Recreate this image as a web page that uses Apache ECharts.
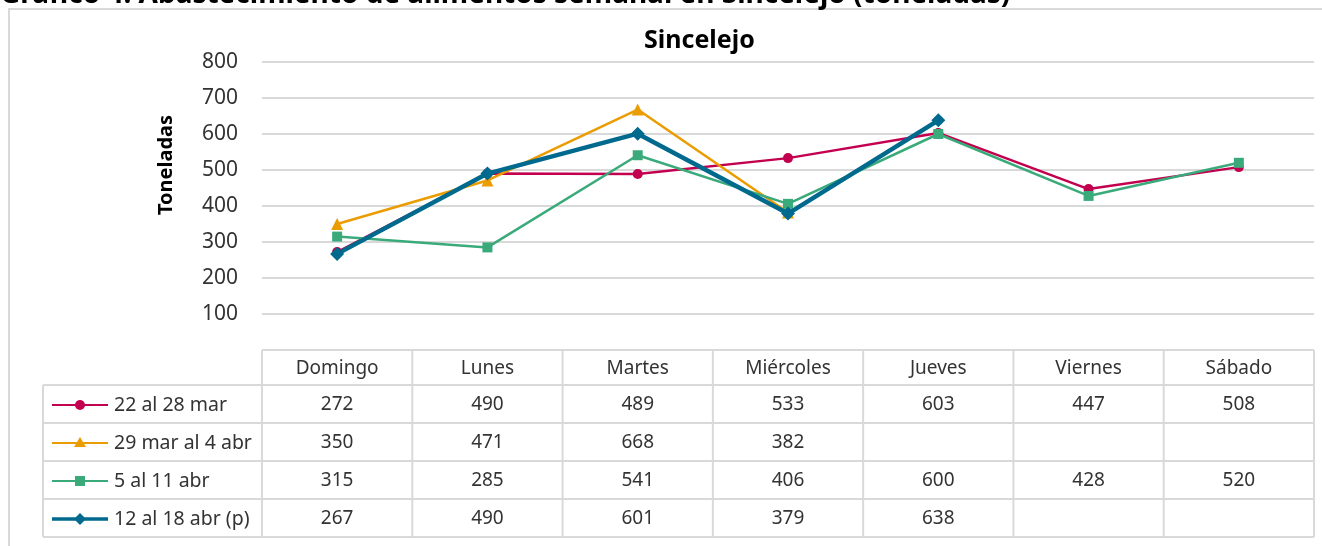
<!DOCTYPE html>
<html>
<head>
<meta charset="utf-8">
<script src="https://cdn.jsdelivr.net/npm/echarts@6/dist/echarts.min.js"></script>
<style>
html,body{margin:0;padding:0;background:#fff;}
#chart{width:1322px;height:546px;}
</style>
</head>
<body>
<div id="chart"></div>
<script>
const categories = ['Domingo','Lunes','Martes','Miércoles','Jueves','Viernes','Sábado'];
const seriesNames = ['22 al 28 mar','29 mar al 4 abr','5 al 11 abr','12 al 18 abr (p)'];
const week1 = [272, 490, 489, 533, 603, 447, 508];
const week2 = [350, 471, 668, 382, null, null, null];
const week3 = [315, 285, 541, 406, 600, 428, 520];
const week4 = [267, 490, 601, 379, 638, null, null];
const yTicks = [0, 100, 200, 300, 400, 500, 600, 700, 800];
const chartTitle = 'Sincelejo';
const outerTitle = 'Gráfico 4. Abastecimiento de alimentos semanal en Sincelejo (toneladas)';
const yName = 'Toneladas';

const allSeries = [week1, week2, week3, week4];
const colors = ['#C2004F', '#EB9C00', '#3BAA7B', '#006A8E'];
const symbols = ['circle', 'triangle', 'rect', 'diamond'];
const symbolSizes = [10, 12, 10, 14];
const lineWidths = [2.5, 2.5, 2.5, 4.5];

const GL = 262, GR = 1314, GT = 62, GB = 350;
const colW = (GR - GL) / categories.length;
const tableLeft = 43, headTop = 350, headBottom = 385, rowH = 38;
const lineColor = '#D9D9D9';
const textColor = '#333333';
const FONT = '"Noto Sans", sans-serif';

const graphics = [];
// outer frame
graphics.push({type:'rect', shape:{x:9, y:9, width:1340, height:560}, style:{fill:'none', stroke:lineColor, lineWidth:2}, silent:true});
// cut-off outer title
graphics.push({type:'text', x:0, y:9, style:{text:outerTitle, font:'bold 28px ' + FONT, fill:'#000', textAlign:'left', textVerticalAlign:'bottom'}});
// y axis name
graphics.push({type:'text', x:166, y:165, rotation:Math.PI/2, style:{text:yName, font:'bold 20px ' + FONT, fill:'#000', textAlign:'center', textVerticalAlign:'middle'}});

// table lines
const nRows = seriesNames.length;
const tableBottom = headBottom + nRows * rowH;
function hline(x1, x2, y){ graphics.push({type:'line', shape:{x1:x1, y1:y, x2:x2, y2:y}, style:{stroke:lineColor, lineWidth:2}, silent:true}); }
function vline(x, y1, y2){ graphics.push({type:'line', shape:{x1:x, y1:y1, x2:x, y2:y2}, style:{stroke:lineColor, lineWidth:2}, silent:true}); }
hline(GL, GR, headTop);
for (let i = 0; i <= nRows; i++) hline(tableLeft, GR, headBottom + i * rowH);
vline(tableLeft, headBottom, tableBottom);
for (let k = 0; k <= categories.length; k++) vline(GL + k * colW, headTop, tableBottom);

const TFONT = '19px ' + FONT;
// header
categories.forEach((c, k) => {
  graphics.push({type:'text', x:GL + (k + 0.5) * colW, y:(headTop + headBottom) / 2 + 1, style:{text:c, font:TFONT, fill:textColor, textAlign:'center', textVerticalAlign:'middle'}});
});
// rows
seriesNames.forEach((name, i) => {
  const cy = headBottom + i * rowH + rowH / 2 + 1;
  const col = colors[i];
  graphics.push({type:'line', shape:{x1:52, y1:cy, x2:108, y2:cy}, style:{stroke:col, lineWidth:lineWidths[i] > 3 ? 3.5 : 2.2}});
  const mx = 80;
  if (symbols[i] === 'circle') graphics.push({type:'circle', shape:{cx:mx, cy:cy, r:5}, style:{fill:col}});
  else if (symbols[i] === 'triangle') graphics.push({type:'polygon', shape:{points:[[mx, cy - 6], [mx + 6, cy + 4], [mx - 6, cy + 4]]}, style:{fill:col}});
  else if (symbols[i] === 'rect') graphics.push({type:'rect', shape:{x:mx - 5, y:cy - 5, width:10, height:10}, style:{fill:col}});
  else graphics.push({type:'polygon', shape:{points:[[mx, cy - 6], [mx + 6, cy], [mx, cy + 6], [mx - 6, cy]]}, style:{fill:col}});
  graphics.push({type:'text', x:114, y:cy, style:{text:name, font:'19.5px ' + FONT, fill:textColor, textAlign:'left', textVerticalAlign:'middle'}});
  allSeries[i].forEach((v, k) => {
    if (v === null) return;
    graphics.push({type:'text', x:GL + (k + 0.5) * colW, y:cy, style:{text:String(v), font:TFONT, fill:textColor, textAlign:'center', textVerticalAlign:'middle'}});
  });
});

const chart = echarts.init(document.getElementById('chart'), null, {renderer:'canvas'});
chart.setOption({
  animation: false,
  backgroundColor: '#fff',
  title: {text: chartTitle, left: 639, top: 23, textStyle:{fontFamily:FONT, fontWeight:'bold', fontSize:25, color:'#000'}},
  grid: {left: GL, right: 1322 - GR, top: GT, bottom: 546 - GB},
  xAxis: {type:'category', data: categories, boundaryGap: true,
    axisLine:{show:false}, axisTick:{show:false}, axisLabel:{show:false}, splitLine:{show:false}},
  yAxis: {type:'value', min: yTicks[0], max: yTicks[yTicks.length - 1], interval: yTicks[1] - yTicks[0],
    axisLine:{show:false}, axisTick:{show:false},
    axisLabel:{margin:24, fontSize:21, fontFamily:FONT, color:textColor, formatter: v => (v === 0 ? '' : String(v))},
    splitLine:{lineStyle:{color:lineColor, width:2}}},
  series: seriesNames.map((n, i) => ({
    name: n, type: 'line', data: allSeries[i], symbol: symbols[i], symbolSize: symbolSizes[i],
    showAllSymbol: true, z: 2 + i,
    lineStyle: {color: colors[i], width: lineWidths[i]}, itemStyle: {color: colors[i]}
  })),
  graphic: graphics
});
</script>
</body>
</html>
